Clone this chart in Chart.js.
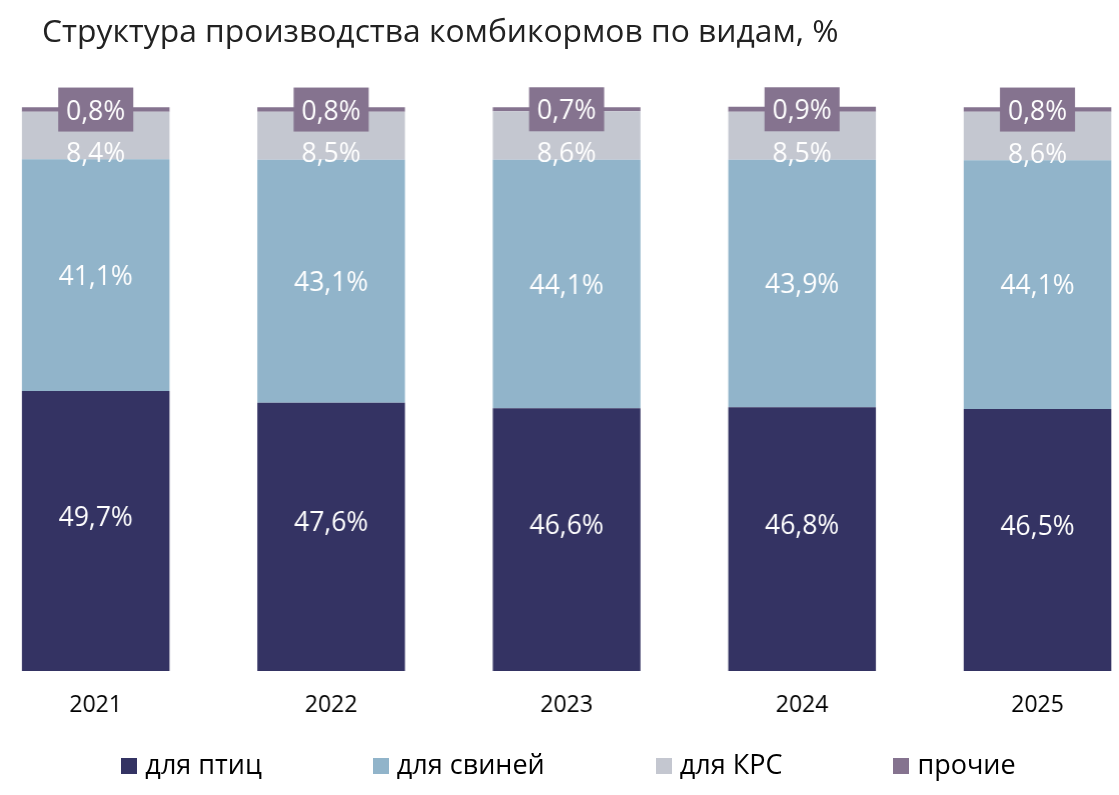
<!DOCTYPE html>
<html lang="ru">
<head>
<meta charset="utf-8">
<title>Структура производства комбикормов</title>
<script src="https://cdn.jsdelivr.net/npm/chart.js@4/dist/chart.umd.min.js"></script>
<style>
  html, body { margin: 0; padding: 0; background: #fff; }
  .wrap { position: relative; width: 1119px; height: 795px; overflow: hidden; font-family: "Open Sans", sans-serif; }
  /* the plot runs past both edges of the page in the original, so the canvas is wider and shifted left */
  .plot { position: absolute; left: -21.6px; top: 0; width: 1176.2px; height: 795px; }
  .chart-title {
    position: absolute; left: 42px; top: 13.6px;
    font-size: 31.8px; line-height: 32px; color: #222; white-space: nowrap;
  }
  .legend {
    position: absolute; left: 0; right: 0; top: 752px; padding-left: 18px;
    display: flex; justify-content: center; gap: 111px;
    font-size: 27px; line-height: 24px; color: #000;
  }
  .legend-item { display: flex; align-items: center; white-space: nowrap; }
  .legend-box { width: 16px; height: 16px; margin-right: 8px; margin-top: 3px; }
</style>
</head>
<body>
<div class="wrap">
  <div class="plot"><canvas id="feedChart"></canvas></div>
  <div class="chart-title">Структура производства комбикормов по видам, %</div>
  <div class="legend" id="legend"></div>
</div>
<script>
/* -------------------------------------------------------
   DATA
------------------------------------------------------- */
const years = ["2021", "2022", "2023", "2024", "2025"];
const seriesNames = ["для птиц", "для свиней", "для КРС", "прочие"];
const poultry = [49.7, 47.6, 46.6, 46.8, 46.5];
const pigs = [41.1, 43.1, 44.1, 43.9, 44.1];
const cattle = [8.4, 8.5, 8.6, 8.5, 8.6];
const other = [0.8, 0.8, 0.7, 0.9, 0.8];

const colors = ["#343363", "#91b4ca", "#c4c7d0", "#85738f"];

Chart.defaults.font.family = "'Open Sans', sans-serif";

const fmt = (v) => v.toFixed(1).replace(".", ",") + "%";

/* -------------------------------------------------------
   VALUE LABELS (no datalabels plugin offline)
------------------------------------------------------- */
const valueLabels = {
  id: "valueLabels",
  afterDatasetsDraw(chart) {
    const ctx = chart.ctx;
    ctx.save();
    ctx.font = "26.5px 'Open Sans', sans-serif";
    ctx.textAlign = "center";
    ctx.textBaseline = "middle";
    chart.data.datasets.forEach((ds, di) => {
      const meta = chart.getDatasetMeta(di);
      meta.data.forEach((bar, i) => {
        const { x, y, base } = bar.getProps(["x", "y", "base"], true);
        const mid = (y + base) / 2;
        const text = fmt(ds.data[i]);
        let ty = mid;
        if (di === 0) ty = mid - 13;      /* poultry label sits a bit high */
        if (di === 1) ty = mid + 2;
        if (di === 2) ty = base - 5;      /* pushed down by the badge above */
        if (di === 3) {
          /* badge for "other" */
          ctx.fillStyle = colors[3];
          ctx.fillRect(x - 37.5, mid - 22, 75, 44);
          ty = mid + 2.5;
        }
        ctx.fillStyle = "#fff";
        ctx.fillText(text, x, ty);
      });
    });
    ctx.restore();
  },
};

/* -------------------------------------------------------
   STACKED BAR CHART
------------------------------------------------------- */
const ctx = document.getElementById("feedChart").getContext("2d");
const seriesData = [poultry, pigs, cattle, other];

new Chart(ctx, {
  type: "bar",
  data: {
    labels: years,
    datasets: seriesData.map((d, i) => ({
      label: seriesNames[i],
      data: d,
      backgroundColor: colors[i],
      borderWidth: 0,
      categoryPercentage: 1,
      barPercentage: 0.627,
      clip: false,
    })),
  },
  options: {
    responsive: true,
    maintainAspectRatio: false,
    animation: false,
    layout: { padding: { left: 0, right: 0, top: 107.3, bottom: 54.3 } },
    plugins: {
      legend: { display: false } /* custom legend in HTML */,
      title: { display: false },
      tooltip: { enabled: false },
    },
    scales: {
      x: {
        stacked: true,
        grid: { display: false, drawTicks: false },
        border: { display: false },
        ticks: { color: "#000", font: { size: 23 }, padding: 21 },
      },
      y: {
        stacked: true,
        display: false,
        min: 0,
        max: 100,
      },
    },
  },
  plugins: [valueLabels],
});

/* -------------------------------------------------------
   LEGEND
------------------------------------------------------- */
(function buildLegend() {
  const box = document.getElementById("legend");
  seriesNames.forEach((name, i) => {
    const item = document.createElement("div");
    item.className = "legend-item";
    item.innerHTML = `<span class="legend-box" style="background:${colors[i]}"></span><span>${name}</span>`;
    box.appendChild(item);
  });
})();
</script>
</body>
</html>
